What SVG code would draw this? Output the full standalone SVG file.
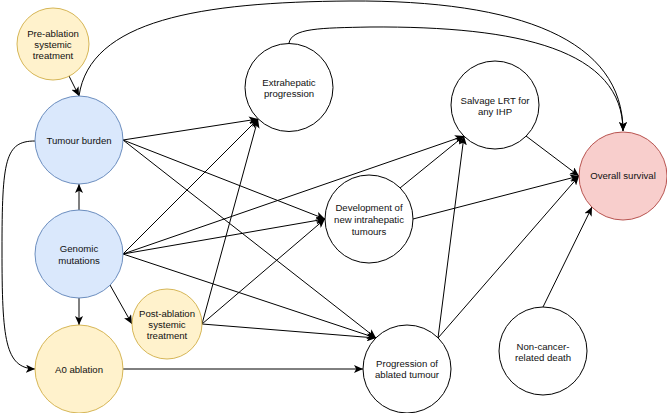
<svg xmlns="http://www.w3.org/2000/svg" width="667" height="413" viewBox="0 0 667 413">
<style>
  .n { stroke-width: 1; }
  .plain { fill: #ffffff; stroke: #000000; }
  .blue { fill: #dae8fc; stroke: #6c8ebf; }
  .yellow { fill: #fff2cc; stroke: #d6b656; }
  .red { fill: #f8cecc; stroke: #b85450; }
  text { font-family: "Liberation Sans", Arial, Helvetica, sans-serif; font-size: 9.6px; fill: #111111; text-anchor: middle; }
  .e { fill: none; stroke: #000000; stroke-width: 1; marker-end: url(#arr); }
</style>
<defs>
  <marker id="arr" markerUnits="userSpaceOnUse" markerWidth="10" markerHeight="8" refX="9" refY="4" orient="auto">
    <path d="M0,0 L9,4 L0,8 L2.2,4 Z" fill="#000000"/>
  </marker>
</defs>
<rect width="667" height="413" fill="#ffffff"/>
<g id="connectors">
  <path class="e" d="M79,96 C90,20 200,2 350,1 C520,0 623,40 623,131"/>
  <path class="e" d="M289,43 C292,28 320,28 370,27 C520,26 623,50 623,131"/>
  <path class="e" d="M69,76 L79,96"/>
  <path class="e" d="M35,141 C5,141 2,160 2,250 C2,340 5,368 35,369"/>
  <path class="e" d="M79,210 L79,184"/>
  <path class="e" d="M79,298 L79,325"/>
  <path class="e" d="M110,285 L132,324"/>
  <path class="e" d="M123,140 L258,119"/>
  <path class="e" d="M123,140 L325,219"/>
  <path class="e" d="M123,140 L376,338"/>
  <path class="e" d="M123,254 L258,119"/>
  <path class="e" d="M123,254 L464,136"/>
  <path class="e" d="M123,254 L325,219"/>
  <path class="e" d="M123,254 L376,338"/>
  <path class="e" d="M202,324 L258,119"/>
  <path class="e" d="M202,324 L325,219"/>
  <path class="e" d="M202,324 L376,338"/>
  <path class="e" d="M123,369 L363,369"/>
  <path class="e" d="M400,188 L464,136"/>
  <path class="e" d="M413,219 L579,176"/>
  <path class="e" d="M438,338 L464,136"/>
  <path class="e" d="M438,338 L579,176"/>
  <path class="e" d="M526,136 L579,176"/>
  <path class="e" d="M543,307 L592,207"/>
</g>
<g id="pre-ablation">
  <circle class="n yellow" cx="53" cy="44" r="36"/>
  <text x="53" y="36.5">Pre-ablation</text>
  <text x="53" y="47.5">systemic</text>
  <text x="53" y="58.5">treatment</text>
</g>
<g id="tumour-burden">
  <circle class="n blue" cx="79" cy="140" r="44"/>
  <text x="79" y="143.5">Tumour burden</text>
</g>
<g id="genomic-mutations">
  <circle class="n blue" cx="79" cy="254" r="44"/>
  <text x="79" y="252">Genomic</text>
  <text x="79" y="263.5">mutations</text>
</g>
<g id="a0-ablation">
  <circle class="n yellow" cx="79" cy="369" r="44"/>
  <text x="79" y="372.5">A0 ablation</text>
</g>
<g id="post-ablation">
  <circle class="n yellow" cx="167" cy="324" r="35"/>
  <text x="167" y="316.5">Post-ablation</text>
  <text x="167" y="327.5">systemic</text>
  <text x="167" y="338.5">treatment</text>
</g>
<g id="extrahepatic">
  <circle class="n plain" cx="289" cy="87.5" r="44"/>
  <text x="289" y="85.5">Extrahepatic</text>
  <text x="289" y="97">progression</text>
</g>
<g id="salvage">
  <circle class="n plain" cx="495" cy="105" r="44"/>
  <text x="495" y="103.5">Salvage LRT for</text>
  <text x="495" y="115">any IHP</text>
</g>
<g id="overall-survival">
  <circle class="n red" cx="623" cy="176" r="44"/>
  <text x="623" y="179">Overall survival</text>
</g>
<g id="development">
  <circle class="n plain" cx="369" cy="219" r="44"/>
  <text x="369" y="210.5">Development of</text>
  <text x="369" y="222.5">new intrahepatic</text>
  <text x="369" y="234.5">tumours</text>
</g>
<g id="progression">
  <circle class="n plain" cx="407" cy="369" r="44"/>
  <text x="407" y="366.5">Progression of</text>
  <text x="407" y="378">ablated tumour</text>
</g>
<g id="non-cancer">
  <circle class="n plain" cx="543" cy="351" r="44"/>
  <text x="543" y="349.5">Non-cancer-</text>
  <text x="543" y="360.5">related death</text>
</g>
</svg>
